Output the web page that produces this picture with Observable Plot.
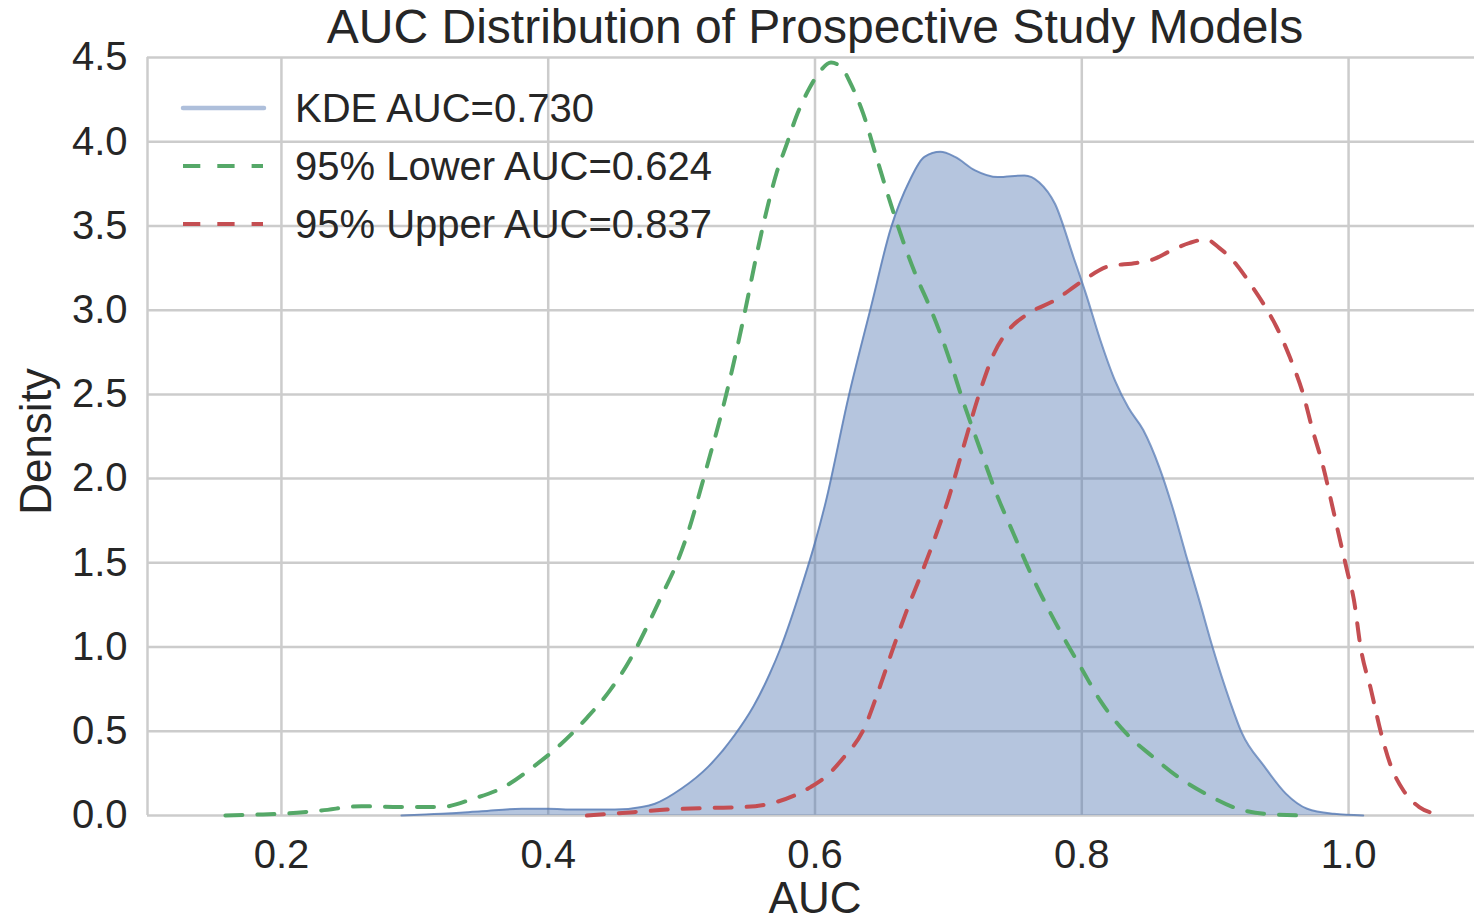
<!DOCTYPE html>
<html>
<head>
<meta charset="utf-8">
<script src="https://cdn.jsdelivr.net/npm/d3@7"></script>
<script src="https://cdn.jsdelivr.net/npm/@observablehq/plot@0.6"></script>
<style>
  html, body { margin: 0; padding: 0; background: #fff; }
  #wrap { position: relative; width: 1474px; height: 923px; overflow: hidden; font-family: "Liberation Sans", Arial, sans-serif; color: #262626; }
  #title { position: absolute; top: 3px; left: 0; width: 1474px; box-sizing: border-box; padding-left: 156px; text-align: center; font-size: 48px; line-height: 48px; white-space: nowrap; }
  #legend { position: absolute; left: 0; top: 0; }
  #chart { position: absolute; left: 0; top: 0; }
</style>
</head>
<body>
<div id="wrap">
  <div id="chart"></div>
  <div id="title">AUC Distribution of Prospective Study Models</div>
  <svg id="legend" width="760" height="260"></svg>
</div>
<script>
// ---- data ----
const kdeX = [0.29, 0.32, 0.35, 0.38, 0.40, 0.42, 0.45, 0.47, 0.48, 0.50, 0.52, 0.54, 0.554, 0.566, 0.574, 0.59, 0.60, 0.608, 0.625, 0.642, 0.657, 0.671, 0.682, 0.694, 0.705, 0.720, 0.737, 0.757, 0.768, 0.780, 0.794, 0.803, 0.814, 0.825, 0.835, 0.846, 0.858, 0.868, 0.878, 0.888, 0.898, 0.911, 0.920, 0.937, 0.953, 0.969, 0.989, 1.011];
const kdeY = [0.0, 0.01, 0.025, 0.04, 0.04, 0.035, 0.035, 0.05, 0.07, 0.16, 0.29, 0.48, 0.65, 0.84, 0.99, 1.36, 1.62, 1.86, 2.48, 3.02, 3.49, 3.77, 3.91, 3.94, 3.91, 3.83, 3.79, 3.80, 3.76, 3.63, 3.31, 3.10, 2.82, 2.58, 2.42, 2.29, 2.07, 1.83, 1.55, 1.28, 1.00, 0.68, 0.49, 0.29, 0.13, 0.04, 0.01, 0.0];

const lowerX = [0.158, 0.18, 0.20, 0.23, 0.26, 0.289, 0.319, 0.344, 0.367, 0.389, 0.409, 0.429, 0.446, 0.461, 0.474, 0.486, 0.496, 0.506, 0.514, 0.521, 0.528, 0.535, 0.542, 0.549, 0.556, 0.564, 0.571, 0.579, 0.586, 0.596, 0.604, 0.612, 0.620, 0.627, 0.636, 0.646, 0.656, 0.666, 0.676, 0.686, 0.694, 0.702, 0.711, 0.724, 0.736, 0.749, 0.761, 0.774, 0.789, 0.800, 0.814, 0.833, 0.853, 0.872, 0.895, 0.917, 0.937, 0.966];
const lowerY = [0.0, 0.005, 0.01, 0.03, 0.055, 0.05, 0.05, 0.10, 0.17, 0.29, 0.42, 0.58, 0.74, 0.92, 1.12, 1.32, 1.49, 1.71, 1.93, 2.13, 2.33, 2.55, 2.79, 3.05, 3.32, 3.60, 3.81, 3.99, 4.15, 4.32, 4.42, 4.47, 4.44, 4.34, 4.17, 3.91, 3.65, 3.41, 3.20, 3.02, 2.86, 2.68, 2.46, 2.17, 1.91, 1.67, 1.45, 1.24, 1.02, 0.87, 0.68, 0.49, 0.35, 0.23, 0.12, 0.04, 0.01, 0.0];

const upperX = [0.429, 0.464, 0.489, 0.521, 0.546, 0.571, 0.585, 0.597, 0.608, 0.621, 0.637, 0.648, 0.658, 0.668, 0.679, 0.690, 0.700, 0.711, 0.723, 0.734, 0.745, 0.760, 0.780, 0.800, 0.820, 0.841, 0.853, 0.866, 0.881, 0.893, 0.903, 0.916, 0.926, 0.936, 0.946, 0.956, 0.966, 0.973, 0.981, 0.988, 0.992, 0.999, 1.004, 1.009, 1.017, 1.024, 1.031, 1.041, 1.053, 1.065, 1.070];
const upperY = [0.0, 0.02, 0.035, 0.045, 0.05, 0.08, 0.12, 0.17, 0.23, 0.34, 0.52, 0.75, 0.98, 1.20, 1.42, 1.65, 1.88, 2.18, 2.50, 2.74, 2.88, 2.98, 3.06, 3.17, 3.26, 3.28, 3.30, 3.35, 3.40, 3.42, 3.37, 3.27, 3.16, 3.04, 2.90, 2.72, 2.50, 2.29, 2.07, 1.83, 1.69, 1.45, 1.28, 1.00, 0.74, 0.50, 0.31, 0.15, 0.05, 0.01, 0.0];

const xTicks = [0.2, 0.4, 0.6, 0.8, 1.0];
const yTicks = [0.0, 0.5, 1.0, 1.5, 2.0, 2.5, 3.0, 3.5, 4.0, 4.5];
const xDomain = [0.0996, 1.0944];
const yDomain = [0, 4.5];
const seriesLabels = ["KDE AUC=0.730", "95% Lower AUC=0.624", "95% Upper AUC=0.837"];
const seriesColors = ["#4C72B0", "#55A868", "#C44E52"];

const zip = (xs, ys) => xs.map((x, i) => ({x, y: ys[i]}));
const kde = zip(kdeX, kdeY);
const lower = zip(lowerX, lowerY);
const upper = zip(upperX, upperY);

const grid = {stroke: "#cccccc", strokeOpacity: 1, strokeWidth: 2.5};
const dash = {strokeWidth: 4, strokeDasharray: "17,15", curve: "monotone-x"};

const chart = Plot.plot({
  width: 1474,
  height: 923,
  marginTop: 57,
  marginBottom: 108,
  marginLeft: 147,
  marginRight: 0,
  x: {domain: xDomain},
  y: {domain: yDomain},
  style: {fontFamily: "'Liberation Sans', Arial, sans-serif", color: "#262626", background: "white"},
  marks: [
    Plot.gridX(xTicks, grid),
    Plot.gridY(yTicks, grid),
    Plot.ruleX([xDomain[0]], grid),
    Plot.areaY(kde, {x: "x", y: "y", fill: seriesColors[0], fillOpacity: 0.41, curve: "monotone-x"}),
    Plot.line(kde, {x: "x", y: "y", stroke: seriesColors[0], strokeWidth: 2, strokeOpacity: 0.7, curve: "monotone-x"}),
    Plot.line(lower, {x: "x", y: "y", stroke: seriesColors[1], ...dash}),
    Plot.line(upper, {x: "x", y: "y", stroke: seriesColors[2], ...dash}),
    Plot.axisX(xTicks, {tickSize: 0, tickPadding: 24, fontSize: 40, tickFormat: d3.format(".1f"), label: null}),
    Plot.axisY(yTicks, {tickSize: 0, tickPadding: 20, fontSize: 40, tickFormat: d3.format(".1f"), label: null}),
    Plot.text(["AUC"], {text: d => d, frameAnchor: "bottom", textAnchor: "middle", lineAnchor: "bottom", dy: 97, dx: 4, fontSize: 44}),
    Plot.text(["Density"], {text: d => d, frameAnchor: "left", textAnchor: "middle", rotate: -90, lineAnchor: "bottom", dx: -97, dy: 5, fontSize: 44})
  ]
});
document.getElementById("chart").appendChild(chart);

// ---- legend ----
const lg = d3.select("#legend");
const rows = [108, 166, 224];
seriesLabels.forEach((lab, i) => {
  const yy = rows[i];
  if (i === 0) {
    lg.append("line").attr("x1", 183).attr("x2", 264).attr("y1", yy).attr("y2", yy)
      .attr("stroke", seriesColors[0]).attr("stroke-opacity", 0.45).attr("stroke-width", 4.5).attr("stroke-linecap", "round");
  } else {
    lg.append("line").attr("x1", 183).attr("x2", 263).attr("y1", yy).attr("y2", yy)
      .attr("stroke", seriesColors[i]).attr("stroke-width", 4).attr("stroke-dasharray", "17.3,17");
  }
  lg.append("text").attr("x", 295).attr("y", yy).attr("dy", "0.35em")
    .attr("font-family", "'Liberation Sans', Arial, sans-serif").attr("font-size", 40)
    .attr("fill", "#262626").text(lab);
});
</script>
</body>
</html>
